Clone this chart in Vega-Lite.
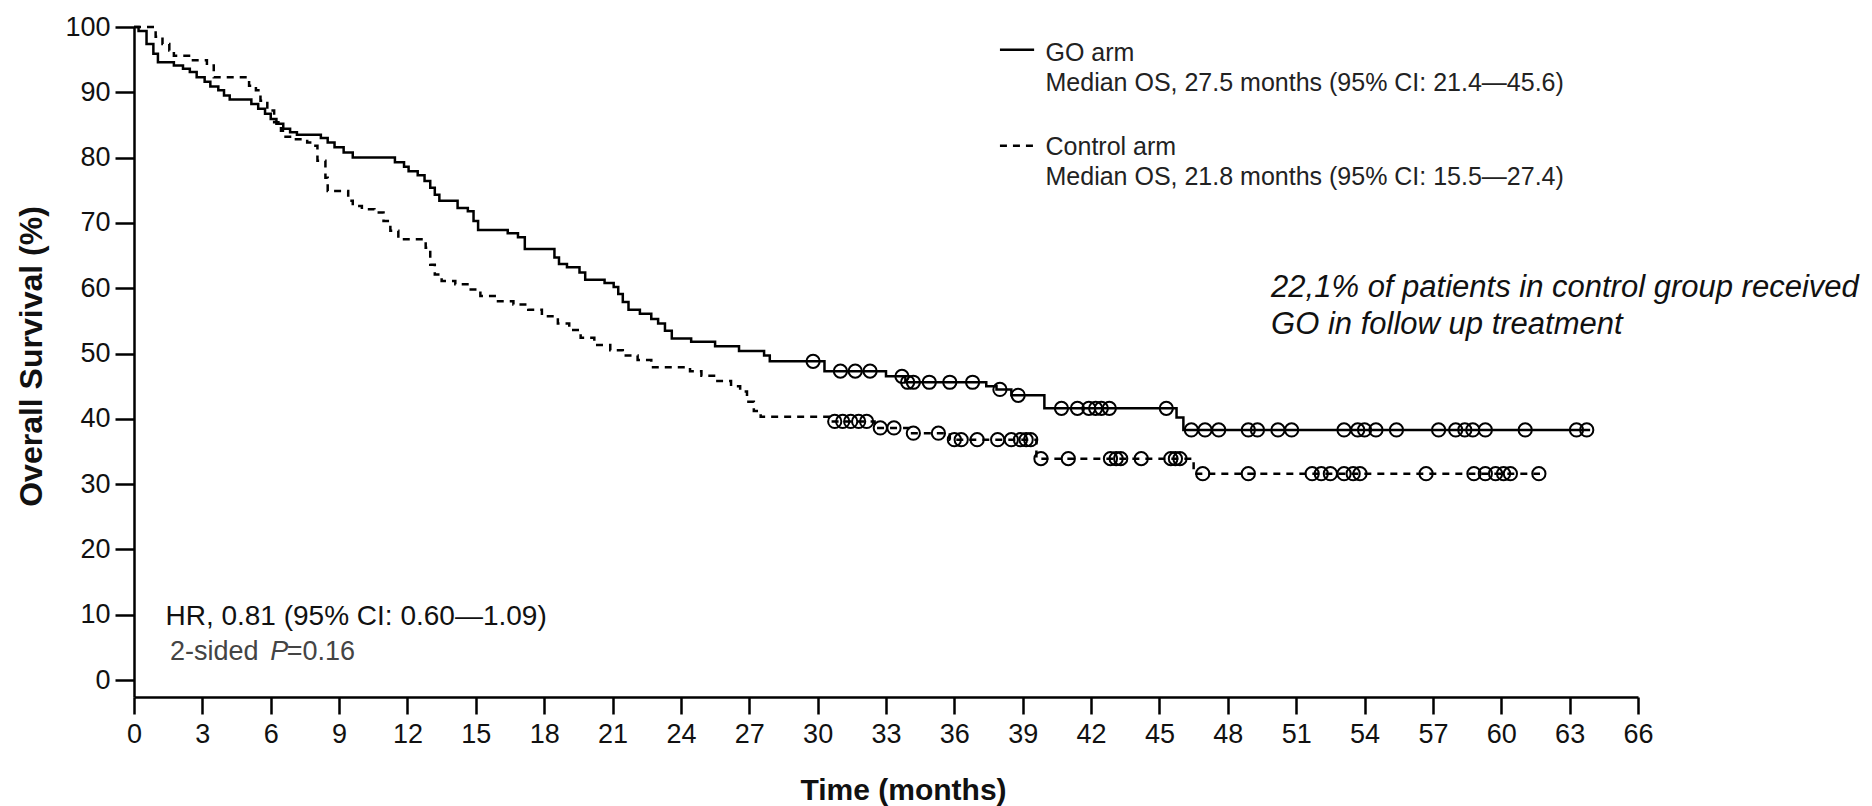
{
  "$schema": "https://vega.github.io/schema/vega-lite/v6.json",
  "autosize": "none",
  "width": 1504,
  "height": 670,
  "padding": {"left": 134, "top": 27, "right": 234, "bottom": 109},
  "background": "white",
  "config": {
    "view": {"stroke": null},
    "font": "Liberation Sans",
    "axis": {"grid": false, "domainColor": "black", "tickColor": "black", "labelColor": "#111", "titleColor": "#111", "labelFont": "Liberation Sans", "titleFont": "Liberation Sans"}
  },
  "datasets": {
    "curves": [
      {"arm": "GO", "t": 0, "s": 100}, {"arm": "GO", "t": 0.2, "s": 99.4}, {"arm": "GO", "t": 0.55, "s": 97.4}, {"arm": "GO", "t": 0.85, "s": 95.9}, {"arm": "GO", "t": 1.05, "s": 94.6},
      {"arm": "GO", "t": 1.75, "s": 94.1}, {"arm": "GO", "t": 2.15, "s": 93.6}, {"arm": "GO", "t": 2.45, "s": 93.1}, {"arm": "GO", "t": 2.75, "s": 92.3}, {"arm": "GO", "t": 3.1, "s": 91.6},
      {"arm": "GO", "t": 3.35, "s": 90.9}, {"arm": "GO", "t": 3.7, "s": 90.3}, {"arm": "GO", "t": 3.95, "s": 89.5}, {"arm": "GO", "t": 4.2, "s": 88.9}, {"arm": "GO", "t": 5.15, "s": 88.2},
      {"arm": "GO", "t": 5.45, "s": 87.5}, {"arm": "GO", "t": 5.75, "s": 86.7}, {"arm": "GO", "t": 6.0, "s": 85.9}, {"arm": "GO", "t": 6.25, "s": 85.2}, {"arm": "GO", "t": 6.55, "s": 84.4},
      {"arm": "GO", "t": 6.85, "s": 83.9}, {"arm": "GO", "t": 7.15, "s": 83.5}, {"arm": "GO", "t": 8.2, "s": 83.0}, {"arm": "GO", "t": 8.5, "s": 82.3}, {"arm": "GO", "t": 8.8, "s": 81.6},
      {"arm": "GO", "t": 9.2, "s": 80.8}, {"arm": "GO", "t": 9.6, "s": 80.0}, {"arm": "GO", "t": 11.45, "s": 79.3}, {"arm": "GO", "t": 11.85, "s": 78.6}, {"arm": "GO", "t": 12.05, "s": 77.9},
      {"arm": "GO", "t": 12.45, "s": 77.3}, {"arm": "GO", "t": 12.75, "s": 76.4}, {"arm": "GO", "t": 13.0, "s": 75.4}, {"arm": "GO", "t": 13.2, "s": 74.3}, {"arm": "GO", "t": 13.4, "s": 73.4},
      {"arm": "GO", "t": 14.2, "s": 72.3}, {"arm": "GO", "t": 14.65, "s": 71.8}, {"arm": "GO", "t": 14.9, "s": 70.3}, {"arm": "GO", "t": 15.1, "s": 68.9}, {"arm": "GO", "t": 16.4, "s": 68.4},
      {"arm": "GO", "t": 16.85, "s": 67.8}, {"arm": "GO", "t": 17.15, "s": 66.0}, {"arm": "GO", "t": 18.45, "s": 64.7}, {"arm": "GO", "t": 18.65, "s": 63.7}, {"arm": "GO", "t": 19.0, "s": 63.2},
      {"arm": "GO", "t": 19.55, "s": 62.4}, {"arm": "GO", "t": 19.8, "s": 61.3}, {"arm": "GO", "t": 20.65, "s": 60.8}, {"arm": "GO", "t": 21.05, "s": 60.2}, {"arm": "GO", "t": 21.25, "s": 59.1},
      {"arm": "GO", "t": 21.45, "s": 57.9}, {"arm": "GO", "t": 21.7, "s": 56.7}, {"arm": "GO", "t": 22.2, "s": 56.1}, {"arm": "GO", "t": 22.7, "s": 55.3}, {"arm": "GO", "t": 23.0, "s": 54.6},
      {"arm": "GO", "t": 23.3, "s": 53.5}, {"arm": "GO", "t": 23.6, "s": 52.3}, {"arm": "GO", "t": 24.45, "s": 51.8}, {"arm": "GO", "t": 25.5, "s": 51.1}, {"arm": "GO", "t": 26.55, "s": 50.4},
      {"arm": "GO", "t": 27.65, "s": 49.7}, {"arm": "GO", "t": 27.9, "s": 48.8}, {"arm": "GO", "t": 30.3, "s": 47.3}, {"arm": "GO", "t": 33.0, "s": 46.5}, {"arm": "GO", "t": 33.85, "s": 45.6},
      {"arm": "GO", "t": 37.4, "s": 45.0}, {"arm": "GO", "t": 37.85, "s": 44.5}, {"arm": "GO", "t": 38.5, "s": 43.6}, {"arm": "GO", "t": 39.95, "s": 41.6}, {"arm": "GO", "t": 45.75, "s": 40.2},
      {"arm": "GO", "t": 46.05, "s": 38.3}, {"arm": "GO", "t": 63.9, "s": 38.3},
      {"arm": "Control", "t": 0, "s": 100}, {"arm": "Control", "t": 0.95, "s": 98.5}, {"arm": "Control", "t": 1.25, "s": 97.4}, {"arm": "Control", "t": 1.55, "s": 96.4}, {"arm": "Control", "t": 1.75, "s": 95.6},
      {"arm": "Control", "t": 2.5, "s": 94.9}, {"arm": "Control", "t": 3.2, "s": 94.1}, {"arm": "Control", "t": 3.5, "s": 92.3}, {"arm": "Control", "t": 5.05, "s": 91.0}, {"arm": "Control", "t": 5.35, "s": 90.3},
      {"arm": "Control", "t": 5.55, "s": 88.7}, {"arm": "Control", "t": 5.85, "s": 87.2}, {"arm": "Control", "t": 6.15, "s": 85.4}, {"arm": "Control", "t": 6.45, "s": 84.1}, {"arm": "Control", "t": 6.65, "s": 83.2},
      {"arm": "Control", "t": 7.05, "s": 82.8}, {"arm": "Control", "t": 7.6, "s": 82.3}, {"arm": "Control", "t": 7.9, "s": 81.8}, {"arm": "Control", "t": 8.05, "s": 79.5}, {"arm": "Control", "t": 8.4, "s": 76.9},
      {"arm": "Control", "t": 8.5, "s": 74.9}, {"arm": "Control", "t": 9.4, "s": 73.4}, {"arm": "Control", "t": 9.6, "s": 72.6}, {"arm": "Control", "t": 10.0, "s": 72.1}, {"arm": "Control", "t": 10.55, "s": 71.6},
      {"arm": "Control", "t": 10.95, "s": 70.3}, {"arm": "Control", "t": 11.25, "s": 68.8}, {"arm": "Control", "t": 11.6, "s": 67.5}, {"arm": "Control", "t": 12.8, "s": 66.2}, {"arm": "Control", "t": 13.0, "s": 63.6},
      {"arm": "Control", "t": 13.2, "s": 62.1}, {"arm": "Control", "t": 13.5, "s": 61.1}, {"arm": "Control", "t": 14.1, "s": 60.6}, {"arm": "Control", "t": 14.7, "s": 59.8}, {"arm": "Control", "t": 15.2, "s": 58.8},
      {"arm": "Control", "t": 15.9, "s": 58.0}, {"arm": "Control", "t": 16.65, "s": 57.5}, {"arm": "Control", "t": 17.3, "s": 56.7}, {"arm": "Control", "t": 17.9, "s": 55.7}, {"arm": "Control", "t": 18.6, "s": 54.6},
      {"arm": "Control", "t": 19.1, "s": 53.6}, {"arm": "Control", "t": 19.6, "s": 52.4}, {"arm": "Control", "t": 20.2, "s": 51.3}, {"arm": "Control", "t": 20.9, "s": 50.5}, {"arm": "Control", "t": 21.45, "s": 49.7},
      {"arm": "Control", "t": 22.1, "s": 49.0}, {"arm": "Control", "t": 22.7, "s": 47.9}, {"arm": "Control", "t": 24.4, "s": 47.3}, {"arm": "Control", "t": 24.9, "s": 46.6}, {"arm": "Control", "t": 25.6, "s": 45.8},
      {"arm": "Control", "t": 26.2, "s": 45.0}, {"arm": "Control", "t": 26.6, "s": 44.2}, {"arm": "Control", "t": 26.9, "s": 42.6}, {"arm": "Control", "t": 27.2, "s": 41.2}, {"arm": "Control", "t": 27.5, "s": 40.3},
      {"arm": "Control", "t": 30.6, "s": 39.6}, {"arm": "Control", "t": 32.5, "s": 38.6}, {"arm": "Control", "t": 34.0, "s": 37.8}, {"arm": "Control", "t": 35.8, "s": 36.8}, {"arm": "Control", "t": 39.6, "s": 33.9},
      {"arm": "Control", "t": 46.5, "s": 31.6}, {"arm": "Control", "t": 61.7, "s": 31.6}
    ],
    "censors": [
      {"arm": "GO", "t": 29.8, "s": 48.8}, {"arm": "GO", "t": 31.0, "s": 47.3}, {"arm": "GO", "t": 31.65, "s": 47.3}, {"arm": "GO", "t": 32.3, "s": 47.3}, {"arm": "GO", "t": 33.7, "s": 46.5},
      {"arm": "GO", "t": 33.95, "s": 45.6}, {"arm": "GO", "t": 34.2, "s": 45.6}, {"arm": "GO", "t": 34.9, "s": 45.6}, {"arm": "GO", "t": 35.8, "s": 45.6}, {"arm": "GO", "t": 36.8, "s": 45.6},
      {"arm": "GO", "t": 38.0, "s": 44.5}, {"arm": "GO", "t": 38.8, "s": 43.6}, {"arm": "GO", "t": 40.7, "s": 41.6}, {"arm": "GO", "t": 41.4, "s": 41.6}, {"arm": "GO", "t": 41.9, "s": 41.6},
      {"arm": "GO", "t": 42.2, "s": 41.6}, {"arm": "GO", "t": 42.45, "s": 41.6}, {"arm": "GO", "t": 42.8, "s": 41.6}, {"arm": "GO", "t": 45.3, "s": 41.6},
      {"arm": "GO", "t": 46.4, "s": 38.3}, {"arm": "GO", "t": 47.0, "s": 38.3}, {"arm": "GO", "t": 47.6, "s": 38.3}, {"arm": "GO", "t": 48.9, "s": 38.3}, {"arm": "GO", "t": 49.3, "s": 38.3},
      {"arm": "GO", "t": 50.2, "s": 38.3}, {"arm": "GO", "t": 50.8, "s": 38.3}, {"arm": "GO", "t": 53.1, "s": 38.3}, {"arm": "GO", "t": 53.7, "s": 38.3}, {"arm": "GO", "t": 54.0, "s": 38.3},
      {"arm": "GO", "t": 54.5, "s": 38.3}, {"arm": "GO", "t": 55.4, "s": 38.3}, {"arm": "GO", "t": 57.25, "s": 38.3}, {"arm": "GO", "t": 58.0, "s": 38.3}, {"arm": "GO", "t": 58.4, "s": 38.3},
      {"arm": "GO", "t": 58.75, "s": 38.3}, {"arm": "GO", "t": 59.3, "s": 38.3}, {"arm": "GO", "t": 61.05, "s": 38.3}, {"arm": "GO", "t": 63.3, "s": 38.3}, {"arm": "GO", "t": 63.75, "s": 38.3},
      {"arm": "Control", "t": 30.75, "s": 39.6}, {"arm": "Control", "t": 31.1, "s": 39.6}, {"arm": "Control", "t": 31.45, "s": 39.6}, {"arm": "Control", "t": 31.8, "s": 39.6}, {"arm": "Control", "t": 32.15, "s": 39.6},
      {"arm": "Control", "t": 32.75, "s": 38.6}, {"arm": "Control", "t": 33.35, "s": 38.6}, {"arm": "Control", "t": 34.2, "s": 37.8}, {"arm": "Control", "t": 35.3, "s": 37.8},
      {"arm": "Control", "t": 36.0, "s": 36.8}, {"arm": "Control", "t": 36.3, "s": 36.8}, {"arm": "Control", "t": 37.0, "s": 36.8}, {"arm": "Control", "t": 37.9, "s": 36.8}, {"arm": "Control", "t": 38.5, "s": 36.8},
      {"arm": "Control", "t": 38.9, "s": 36.8}, {"arm": "Control", "t": 39.15, "s": 36.8}, {"arm": "Control", "t": 39.35, "s": 36.8},
      {"arm": "Control", "t": 39.8, "s": 33.9}, {"arm": "Control", "t": 41.0, "s": 33.9}, {"arm": "Control", "t": 42.85, "s": 33.9}, {"arm": "Control", "t": 43.1, "s": 33.9}, {"arm": "Control", "t": 43.3, "s": 33.9},
      {"arm": "Control", "t": 44.2, "s": 33.9}, {"arm": "Control", "t": 45.5, "s": 33.9}, {"arm": "Control", "t": 45.7, "s": 33.9}, {"arm": "Control", "t": 45.9, "s": 33.9},
      {"arm": "Control", "t": 46.9, "s": 31.6}, {"arm": "Control", "t": 48.9, "s": 31.6}, {"arm": "Control", "t": 51.7, "s": 31.6}, {"arm": "Control", "t": 52.1, "s": 31.6}, {"arm": "Control", "t": 52.5, "s": 31.6},
      {"arm": "Control", "t": 53.1, "s": 31.6}, {"arm": "Control", "t": 53.5, "s": 31.6}, {"arm": "Control", "t": 53.8, "s": 31.6}, {"arm": "Control", "t": 56.7, "s": 31.6}, {"arm": "Control", "t": 58.8, "s": 31.6},
      {"arm": "Control", "t": 59.3, "s": 31.6}, {"arm": "Control", "t": 59.75, "s": 31.6}, {"arm": "Control", "t": 60.1, "s": 31.6}, {"arm": "Control", "t": 60.4, "s": 31.6}, {"arm": "Control", "t": 61.65, "s": 31.6}
    ]
  },
  "layer": [
    {
      "data": {"name": "curves"},
      "mark": {"type": "line", "interpolate": "step-after", "strokeWidth": 2.5, "color": "black"},
      "encoding": {
        "x": {"field": "t", "type": "quantitative", "scale": {"domain": [0, 66], "nice": false, "zero": false},
          "axis": {"title": "Time (months)", "values": [0,3,6,9,12,15,18,21,24,27,30,33,36,39,42,45,48,51,54,57,60,63,66], "labelFontSize": 27, "titleFontSize": 30, "titleFontWeight": "bold", "domainWidth": 2.5, "tickWidth": 2.5, "tickSize": 17, "labelPadding": 7, "titleX": 769, "titleY": 93, "titleBaseline": "middle", "titleAlign": "center", "labelFlush": false}},
        "y": {"field": "s", "type": "quantitative", "scale": {"domain": [-2.6, 100], "nice": false, "zero": false},
          "axis": {"title": "Overall Survival (%)", "values": [0,10,20,30,40,50,60,70,80,90,100], "labelFontSize": 27, "titleFontSize": 32, "titleFontWeight": "bold", "domainWidth": 2.5, "tickWidth": 2.5, "tickSize": 19, "labelPadding": 5, "titleX": -103, "titleY": 329, "titleBaseline": "middle", "titleAlign": "center", "titleAngle": 270}},
        "strokeDash": {"field": "arm", "type": "nominal", "scale": {"domain": ["GO", "Control"], "range": [[1, 0], [7, 6]]}, "legend": null},
        "detail": {"field": "arm"}
      }
    },
    {
      "data": {"name": "censors"},
      "mark": {"type": "point", "shape": "circle", "filled": false, "stroke": "black", "strokeWidth": 2, "size": 175, "opacity": 1},
      "encoding": {
        "x": {"field": "t", "type": "quantitative"},
        "y": {"field": "s", "type": "quantitative"}
      }
    },
    {
      "data": {"values": [
        {"arm": "GO", "t1": 38.0, "t2": 39.5, "s": 96.5},
        {"arm": "Control", "t1": 38.0, "t2": 39.5, "s": 81.8}
      ]},
      "mark": {"type": "rule", "strokeWidth": 2.5, "color": "black"},
      "encoding": {
        "x": {"field": "t1", "type": "quantitative"},
        "x2": {"field": "t2"},
        "y": {"field": "s", "type": "quantitative"},
        "strokeDash": {"field": "arm", "type": "nominal", "scale": {"domain": ["GO", "Control"], "range": [[1, 0], [5, 5]]}, "legend": null}
      }
    },
    {
      "data": {"values": [
        {"t": 40.0, "s": 96.0, "label": "GO arm"},
        {"t": 40.0, "s": 91.4, "label": "Median OS, 27.5 months (95% CI: 21.4—45.6)"},
        {"t": 40.0, "s": 81.6, "label": "Control arm"},
        {"t": 40.0, "s": 77.0, "label": "Median OS, 21.8 months (95% CI: 15.5—27.4)"}
      ]},
      "mark": {"type": "text", "align": "left", "baseline": "middle", "fontSize": 25, "color": "#222", "font": "Liberation Sans"},
      "encoding": {
        "x": {"field": "t", "type": "quantitative"},
        "y": {"field": "s", "type": "quantitative"},
        "text": {"field": "label"}
      }
    },
    {
      "data": {"values": [
        {"t": 49.9, "s": 60.0, "label": "22,1% of patients in control group received"},
        {"t": 49.9, "s": 54.4, "label": "GO in follow up treatment"}
      ]},
      "mark": {"type": "text", "align": "left", "baseline": "middle", "fontSize": 31, "fontStyle": "italic", "color": "#111", "font": "Liberation Sans"},
      "encoding": {
        "x": {"field": "t", "type": "quantitative"},
        "y": {"field": "s", "type": "quantitative"},
        "text": {"field": "label"}
      }
    },
    {
      "data": {"values": [
        {"t": 1.38, "s": 9.6, "label": "HR, 0.81 (95% CI: 0.60—1.09)"}
      ]},
      "mark": {"type": "text", "align": "left", "baseline": "middle", "fontSize": 28, "color": "#111", "font": "Liberation Sans"},
      "encoding": {
        "x": {"field": "t", "type": "quantitative"},
        "y": {"field": "s", "type": "quantitative"},
        "text": {"field": "label"}
      }
    },
    {
      "data": {"values": [
        {"t": 1.58, "s": 4.3, "label": "2-sided"},
        {"t": 6.7, "s": 4.3, "label": "=0.16"}
      ]},
      "mark": {"type": "text", "align": "left", "baseline": "middle", "fontSize": 27, "color": "#444", "font": "Liberation Sans"},
      "encoding": {
        "x": {"field": "t", "type": "quantitative"},
        "y": {"field": "s", "type": "quantitative"},
        "text": {"field": "label"}
      }
    },
    {
      "data": {"values": [
        {"t": 5.98, "s": 4.3, "label": "P"}
      ]},
      "mark": {"type": "text", "align": "left", "baseline": "middle", "fontSize": 27, "fontStyle": "italic", "color": "#444", "font": "Liberation Sans"},
      "encoding": {
        "x": {"field": "t", "type": "quantitative"},
        "y": {"field": "s", "type": "quantitative"},
        "text": {"field": "label"}
      }
    }
  ]
}
